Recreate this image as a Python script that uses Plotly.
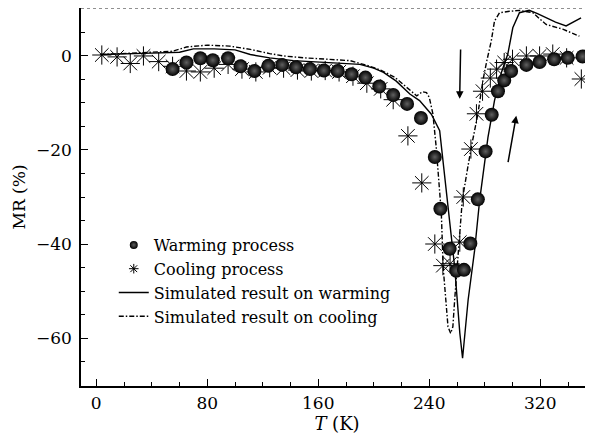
import plotly.graph_objects as go

# ---- data ----
T_warm = [55, 65, 75, 84, 95, 104, 114, 124, 134, 144, 154, 164, 174, 184, 194, 204,
          214, 224, 234, 244, 248, 254.7, 259.5, 265, 269.6, 275, 280.6, 285, 289.5,
          294, 299, 310, 319.5, 330, 339.8, 350.5]
MR_warm = [-2.8, -1.4, -0.5, -0.9, -0.5, -2.2, -3.2, -2.1, -1.9, -2.4, -2.8, -3.1,
           -3.2, -3.9, -4.6, -6.5, -8.3, -10.2, -13.2, -21.5, -32.5, -41, -45.7, -45.5,
           -39.9, -30.5, -20.3, -12.5, -7.5, -5.2, -3.2, -1.9, -1.3, -0.7, -0.4, -0.1]

T_cool = [4, 15, 24.5, 34, 45, 55, 65, 75, 85, 95, 105, 115, 125, 135, 145, 155, 165,
          175, 185, 195, 205, 214, 224.6, 234.6, 244, 249.8, 255, 262, 264.5, 270, 274,
          278.4, 284, 288.5, 294, 300, 310, 319.5, 329, 339, 349.6]
MR_cool = [0.2, -0.2, -1.6, 0, -1.2, -2.2, -3.2, -3.4, -2.6, -1.8, -2.8, -3.4, -2.5,
           -2.6, -3.0, -3.2, -3.1, -3.4, -4.3, -5.8, -7.0, -9.3, -17, -27, -40, -44.6,
           -44.2, -39.6, -30, -19.8, -12.3, -7.5, -4.7, -2.8, -1.4, -0.7, 0, 0, 0.4,
           -0.4, -4.9]

T_sim_warm = [3, 20, 40, 60, 70, 85, 100, 111, 125, 142, 160, 175, 190, 200, 207, 216,
              226, 233, 241.5, 247.5, 250, 252.5, 255, 258.3, 262, 264, 268, 272.7,
              276.3, 282.3, 287, 292, 296.6, 300.2, 305, 312, 318, 324, 331, 338.6,
              344, 349.4]
MR_sim_warm = [0.3, 0.5, 0.6, 0.8, 1.5, 1.5, 1.3, 0.3, -0.4, -1.0, -1.3, -1.5, -1.8,
               -2.6, -3.5, -5.3, -8.1, -9.5, -12.4, -15.9, -22.9, -30, -37, -44.9,
               -58.9, -64.3, -51.9, -41.3, -30.7, -17.3, -9.5, -3.5, 0.4, 6, 9.2, 9.7,
               9.0, 8.1, 7.2, 6.4, 7.2, 8.1]

T_sim_cool = [3, 20, 40, 55, 65, 80, 96, 111, 125, 135, 150, 165, 183, 195, 205, 215,
              225, 231, 235, 238, 240, 242.6, 245, 247, 248.7, 250, 251.8, 253.5, 255.4,
              257, 258.3, 260, 262.4, 263.8, 267, 270.3, 275, 278.6, 281.5, 284.7, 287,
              290.6, 297.8, 305, 314.6, 324.2, 336.2, 348.2]
MR_sim_cool = [0.3, 0.5, 0.7, 1.0, 1.9, 2.3, 2.1, 1.4, 0.5, 0, -0.4, -0.7, -1.0, -2.0,
               -3.0, -4.5, -7.0, -8.5, -7.6, -7.8, -8.8, -12.3, -19.4, -26.5, -33.5,
               -44.9, -51.9, -57.6, -59, -57.6, -51.9, -44.9, -36.4, -30.7, -25, -19.4,
               -12.4, -5.3, -1, 3.2, 7.4, 9.2, 9.5, 9.7, 9.2, 6.7, 5.7, 4.2]

x_ticks = [0, 80, 160, 240, 320]
y_ticks = [0, -20, -40, -60]

names = ["Warming process", "Cooling process",
         "Simulated result on warming", "Simulated result on cooling"]

FONT = "DejaVu Serif"
DASHDOT = "5px,2px,1.5px,2px"

fig = go.Figure()

# simulated curves
fig.add_trace(go.Scatter(x=T_sim_warm, y=MR_sim_warm, mode="lines",
                         line=dict(color="black", width=1.4), showlegend=False))
fig.add_trace(go.Scatter(x=T_sim_cool, y=MR_sim_cool, mode="lines",
                         line=dict(color="black", width=1.4, dash=DASHDOT),
                         showlegend=False))
# cooling stars
fig.add_trace(go.Scatter(x=T_cool, y=MR_cool, mode="markers",
                         marker=dict(symbol="asterisk-open", size=16, color="black",
                                     line=dict(color="black", width=1)),
                         showlegend=False))
# warming balls
fig.add_trace(go.Scatter(x=T_warm, y=MR_warm, mode="markers",
                         marker=dict(symbol="circle", size=14, color="black",
                                     gradient=dict(type="radial", color="#606060"),
                                     line=dict(width=0)),
                         showlegend=False))

# legend entries (small symbols as in reference)
fig.add_trace(go.Scatter(x=[None], y=[None], mode="markers", name=names[0],
                         marker=dict(symbol="circle", size=8, color="black",
                                     gradient=dict(type="radial", color="#606060"))))
fig.add_trace(go.Scatter(x=[None], y=[None], mode="markers", name=names[1],
                         marker=dict(symbol="asterisk-open", size=8, color="black",
                                     line=dict(color="black", width=1))))
fig.add_trace(go.Scatter(x=[None], y=[None], mode="lines", name=names[2],
                         line=dict(color="black", width=1.4)))
fig.add_trace(go.Scatter(x=[None], y=[None], mode="lines", name=names[3],
                         line=dict(color="black", width=1.4, dash=DASHDOT)))

# arrows
fig.add_annotation(x=261.9, y=-9.1, ax=262.6, ay=1.7, axref="x", ayref="y",
                   xref="x", yref="y", text="", showarrow=True,
                   arrowhead=2, arrowsize=1, arrowwidth=1.5, arrowcolor="black")
fig.add_annotation(x=302.7, y=-12.7, ax=296.6, ay=-22.9, axref="x", ayref="y",
                   xref="x", yref="y", text="", showarrow=True,
                   arrowhead=2, arrowsize=1, arrowwidth=1.5, arrowcolor="black")

# dotted top border
fig.add_shape(type="line", xref="paper", yref="paper", x0=0, x1=1, y0=1, y1=1,
              line=dict(color="#222", width=1, dash="dot"))

# the page places the figure 8 px from the top-left corner
fig.update_layout(
    width=585, height=434,
    margin=dict(l=73, r=0, t=0, b=56, autoexpand=False),
    plot_bgcolor="white", paper_bgcolor="white",
    font=dict(family=FONT, size=17, color="black"),
    legend=dict(x=0.064, y=0.418, xanchor="left", yanchor="top",
                bgcolor="rgba(0,0,0,0)", font=dict(family=FONT, size=16),
                tracegroupgap=0),
    xaxis=dict(range=[-11, 358], showline=True, linecolor="black", linewidth=1.5,
               ticks="inside", ticklen=7, tickwidth=1.2, tickcolor="black",
               tickvals=x_ticks, showgrid=False, zeroline=False,
               minor=dict(dtick=20, tick0=0, ticks="inside", ticklen=4,
                          tickcolor="black", tickwidth=1),
               title=dict(text="<i>T</i> (K)", font=dict(family=FONT, size=18),
                          standoff=5),
               ticklabelstandoff=1, automargin=False),
    yaxis=dict(range=[-70.2, 10.2], showline=True, linecolor="black", linewidth=1.5,
               ticks="inside", ticklen=7, tickwidth=1.2, tickcolor="black",
               tickvals=y_ticks, showgrid=False, zeroline=False,
               minor=dict(dtick=5, tick0=0, ticks="inside", ticklen=4,
                          tickcolor="black", tickwidth=1),
               title=dict(text="MR (%)", font=dict(family=FONT, size=17),
                          standoff=6),
               ticklabelstandoff=4, automargin=False),
)

fig.write_html("out.html")
